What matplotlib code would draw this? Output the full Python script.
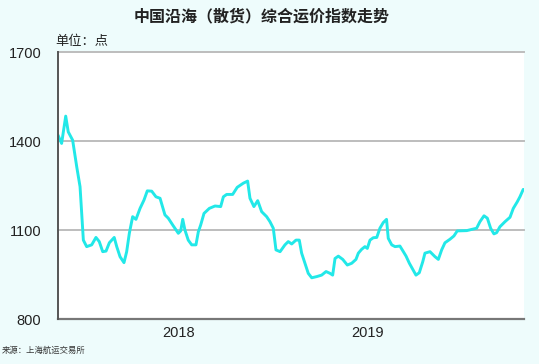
import matplotlib
matplotlib.use("Agg")
import matplotlib.pyplot as plt

plt.rcParams['font.family'] = ['Noto Sans CJK SC', 'DejaVu Sans']

# 数据：横轴为起点以来的月份，纵轴为指数点位
months = [0.0, 0.23, 0.49, 0.65, 0.93, 1.19, 1.40, 1.61, 1.82, 2.14, 2.41, 2.62,
          2.84, 3.05, 3.26, 3.57, 3.73, 3.94, 4.19, 4.36, 4.53, 4.74, 4.95, 5.21,
          5.46, 5.67, 5.95, 6.22, 6.48, 6.79, 7.00, 7.32, 7.64, 7.79, 7.92, 8.06,
          8.27, 8.49, 8.76, 8.91, 9.06, 9.27, 9.61, 9.97, 10.33, 10.50, 10.71,
          11.09, 11.38, 11.77, 12.04, 12.19, 12.44, 12.68, 12.93, 13.25, 13.46,
          13.67, 13.84, 14.10, 14.41, 14.62, 14.84, 15.11, 15.32, 15.47, 15.68,
          15.89, 16.11, 16.43, 16.74, 17.02, 17.27, 17.44, 17.59, 17.80, 18.08,
          18.37, 18.65, 18.92, 19.07, 19.28, 19.49, 19.64, 19.81, 20.02, 20.24,
          20.44, 20.65, 20.86, 20.97, 21.19, 21.40, 21.71, 21.93, 22.10, 22.31,
          22.52, 22.73, 22.94, 23.16, 23.30, 23.62, 23.94, 24.15, 24.36, 24.57,
          24.89, 25.14, 25.35, 25.95, 26.58, 26.79, 27.05, 27.26, 27.47, 27.68,
          27.85, 28.06, 28.38, 28.70, 28.91, 29.16, 29.33, 29.54]
index = [1420, 1392, 1484, 1431, 1403, 1313, 1246, 1066, 1044, 1050, 1075, 1061,
         1027, 1029, 1057, 1075, 1044, 1010, 990, 1027, 1089, 1145, 1136, 1173,
         1201, 1232, 1231, 1212, 1207, 1151, 1140, 1114, 1089, 1097, 1136, 1100,
         1066, 1050, 1050, 1094, 1117, 1156, 1173, 1181, 1179, 1212, 1220,
         1220, 1244, 1258, 1265, 1207, 1179, 1199, 1162, 1145, 1128,
         1106, 1033, 1027, 1050, 1061, 1053, 1066, 1066, 1022, 988,
         954, 939, 943, 948, 960, 954, 948, 1004, 1012, 1001,
         982, 988, 1001, 1022, 1035, 1044, 1038, 1066, 1074, 1075,
         1106, 1125, 1136, 1072, 1050, 1044, 1046, 1027, 1012, 988,
         968, 948, 956, 993, 1022, 1027, 1010, 1001, 1033, 1057,
         1069, 1080, 1097, 1098, 1106, 1128, 1148, 1140, 1106, 1087,
         1091, 1111, 1128, 1143, 1173, 1195, 1212, 1237]

year_pos = [7.68, 19.68]
year_labels = ['2018', '2019']
y_ticks = [800, 1100, 1400, 1700]

bg = '#eefcfc'
fig = plt.figure(figsize=(5.39, 3.64), dpi=100, facecolor=bg)
ax = fig.add_axes([0.1076, 0.1236, 0.8646, 0.7334])
ax.set_facecolor('white')

for v in y_ticks[1:]:
    ax.axhline(v, color='#bdbdbd', lw=1.4, zorder=1, clip_on=False)

ax.plot(months, index, color='#22e8e8', lw=2.1, solid_joinstyle='round',
        solid_capstyle='round', zorder=3)

ax.set_xlim(0, 29.59)
ax.set_ylim(800, 1700)
ax.set_yticks(y_ticks)
ax.set_yticklabels([str(v) for v in y_ticks], fontfamily='Liberation Sans',
                   fontsize=10.5, color='#222222')
ax.set_xticks(year_pos)
ax.set_xticklabels(year_labels, fontfamily='Liberation Sans', fontsize=10.5,
                   color='#222222')
ax.tick_params(axis='both', length=0)
ax.tick_params(axis='y', pad=12)
ax.tick_params(axis='x', pad=5)

for s in ['top', 'right']:
    ax.spines[s].set_visible(False)
ax.spines['left'].set_color('#555555')
ax.spines['left'].set_linewidth(1.4)
ax.spines['left'].set_zorder(4)
ax.spines['bottom'].set_color('#777777')
ax.spines['bottom'].set_linewidth(1.6)

fig.text(0.486, 0.955, '中国沿海（散货）综合运价指数走势', ha='center', va='center',
         fontsize=11.5, fontweight='bold', color='#222222')
fig.text(0.103, 0.885, '单位：点', ha='left', va='center', fontsize=9.5,
         color='#222222')
fig.text(0.004, 0.038, '来源：上海航运交易所', ha='left', va='center', fontsize=6,
         color='#333333')

fig.savefig('out.png', dpi=100, facecolor=bg)
